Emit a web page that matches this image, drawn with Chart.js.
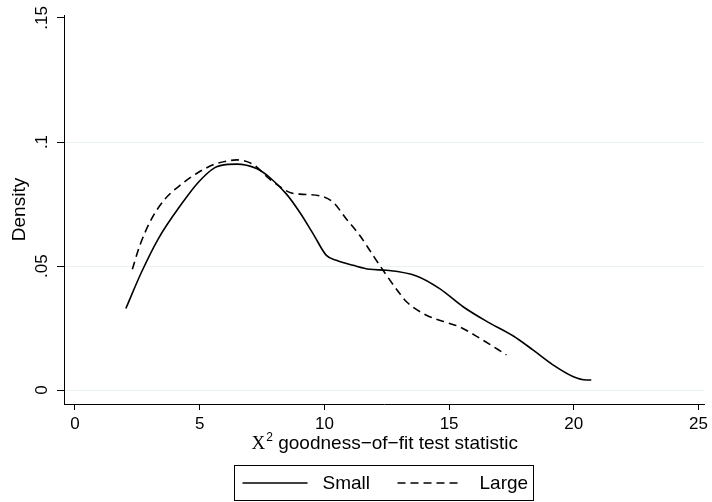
<!DOCTYPE html>
<html>
<head>
<meta charset="utf-8">
<script src="https://cdn.jsdelivr.net/npm/chart.js@4.4.1/dist/chart.umd.min.js"></script>
<style>
  html, body { margin: 0; padding: 0; background: #fff; }
  canvas { display: block; }
</style>
</head>
<body>
<canvas id="densityChart" width="712" height="502"></canvas>
<script>
// valeurs
const smallX = [2.04, 2.67, 3.34, 4.27, 4.94, 5.61, 6.14, 6.48, 7.28, 7.81, 8.48, 9.01, 9.55, 10.08, 10.48, 11.15, 11.82, 12.49, 13.69, 14.62, 15.56, 16.49, 17.56, 18.36, 19.16, 19.96, 20.5, 20.7];
const smallY = [0.0329, 0.0476, 0.061, 0.075, 0.0837, 0.0897, 0.091, 0.0911, 0.0893, 0.0857, 0.079, 0.0717, 0.063, 0.0543, 0.0523, 0.0503, 0.0487, 0.0483, 0.046, 0.0409, 0.0336, 0.0278, 0.0219, 0.0162, 0.0102, 0.0055, 0.0041, 0.0041];
const largeX = [2.3, 2.6, 3.07, 3.61, 4.27, 4.94, 5.61, 6.14, 6.48, 7.14, 7.81, 8.61, 9.01, 9.82, 10.35, 10.88, 11.42, 11.95, 12.49, 13.02, 13.29, 14.09, 14.89, 15.42, 16.23, 17.3];
const largeY = [0.0487, 0.0583, 0.069, 0.077, 0.083, 0.0877, 0.0911, 0.0924, 0.0928, 0.091, 0.085, 0.0797, 0.079, 0.0783, 0.0757, 0.069, 0.0623, 0.0543, 0.0463, 0.0389, 0.0356, 0.0302, 0.0273, 0.0255, 0.0209, 0.0142];

const xTicks = [0, 5, 10, 15, 20, 25];
const yTicks = [0, 0.05, 0.1, 0.15];
const seriesNames = ['Small', 'Large'];
const xTitle = ['X', '2', ' goodness\u2212of\u2212fit test statistic'];
const yTitle = 'Density';

const gridColor = 'rgb(234, 241, 243)';
const sans = '"Liberation Sans", Arial, sans-serif';

function toPoints(xs, ys) {
  return xs.map((x, i) => ({ x: x, y: ys[i] }));
}

// titre de l'axe x (X en serif) + légende encadrée
const stataExtras = {
  id: 'stataExtras',
  afterDraw(chart) {
    const c = chart.ctx;
    const area = chart.chartArea;
    const mid = (area.left + area.right) / 2;
    c.save();
    c.fillStyle = '#000';
    c.textBaseline = 'alphabetic';
    c.textAlign = 'left';

    c.font = '19px "Liberation Serif", serif';
    const w1 = c.measureText(xTitle[0]).width;
    c.font = '12px ' + sans;
    const w2 = c.measureText(xTitle[1]).width;
    c.font = '19px ' + sans;
    const w3 = c.measureText(xTitle[2]).width;
    let tx = mid - (w1 + w2 + w3) / 2;
    const base = chart.scales.x.bottom - 5;
    c.font = '19px "Liberation Serif", serif';
    c.fillText(xTitle[0], tx, base);
    tx += w1 + 1;
    c.font = '12px ' + sans;
    c.fillText(xTitle[1], tx, base - 8);
    tx += w2;
    c.font = '19px ' + sans;
    c.fillText(xTitle[2], tx, base);

    // légende
    const boxL = Math.round(mid - 150.5) + 0.5;
    const boxT = 465.5;
    c.strokeStyle = '#000';
    c.lineWidth = 1;
    c.strokeRect(boxL, boxT, 299, 35);
    const ly = boxT + 17.5;
    const offsets = [[8, 88], [163, 245]];
    chart.data.datasets.forEach((ds, i) => {
      c.beginPath();
      c.setLineDash(ds.borderDash || []);
      c.lineWidth = ds.borderWidth;
      c.moveTo(boxL + offsets[i][0], ly);
      c.lineTo(boxL + offsets[i][0] + 65, ly);
      c.stroke();
      c.setLineDash([]);
      c.font = '19px ' + sans;
      c.fillText(ds.label, boxL + offsets[i][1], boxT + 23.5);
    });
    c.restore();
  }
};

const ctx = document.getElementById('densityChart').getContext('2d');

const densityChart = new Chart(ctx, {
  type: 'line',
  data: {
    datasets: [{
      label: seriesNames[0],
      data: toPoints(smallX, smallY),
      borderColor: '#000',
      borderWidth: 1.6,
      pointRadius: 0,
      cubicInterpolationMode: 'monotone',
      fill: false
    }, {
      label: seriesNames[1],
      data: toPoints(largeX, largeY),
      borderColor: '#000',
      borderWidth: 1.6,
      borderDash: [8, 5],
      pointRadius: 0,
      cubicInterpolationMode: 'monotone',
      fill: false
    }]
  },
  options: {
    responsive: false,
    animation: false,
    layout: { padding: { top: 15, right: 1, bottom: 48, left: 0 } },
    plugins: {
      legend: { display: false },
      tooltip: { enabled: false }
    },
    scales: {
      x: {
        type: 'linear',
        min: -0.44,
        max: 25.24,
        afterBuildTicks: function(scale) {
          scale.ticks = xTicks.map(v => ({ value: v }));
        },
        afterFit: function(scale) { scale.height = 50; },
        grid: {
          drawOnChartArea: false,
          drawTicks: true,
          tickLength: 6,
          tickColor: '#000'
        },
        border: { display: true, color: '#000', width: 1 },
        ticks: {
          color: '#000',
          padding: 4,
          maxRotation: 0,
          font: { family: sans, size: 17 },
          callback: function(value) { return String(value); }
        }
      },
      y: {
        min: -0.0056,
        max: 0.1512,
        afterBuildTicks: function(scale) {
          scale.ticks = yTicks.map(v => ({ value: v }));
        },
        afterFit: function(scale) { scale.width = 64; },
        grid: {
          color: function(c) { return c.tick && c.tick.value > 0.14 ? 'rgba(0,0,0,0)' : gridColor; },
          lineWidth: 1,
          drawTicks: true,
          tickLength: 7,
          tickColor: '#000'
        },
        border: { display: true, color: '#000', width: 1 },
        ticks: {
          color: '#000',
          padding: 3,
          minRotation: 90,
          maxRotation: 90,
          crossAlign: 'center',
          font: { family: sans, size: 17 },
          callback: function(value) {
            return value === 0 ? '0' : String(value).replace(/^0/, '');
          }
        },
        title: {
          display: true,
          text: yTitle,
          color: '#000',
          padding: { top: 8, bottom: 0 },
          font: { family: sans, size: 19 }
        }
      }
    }
  },
  plugins: [stataExtras]
});
</script>
</body>
</html>
